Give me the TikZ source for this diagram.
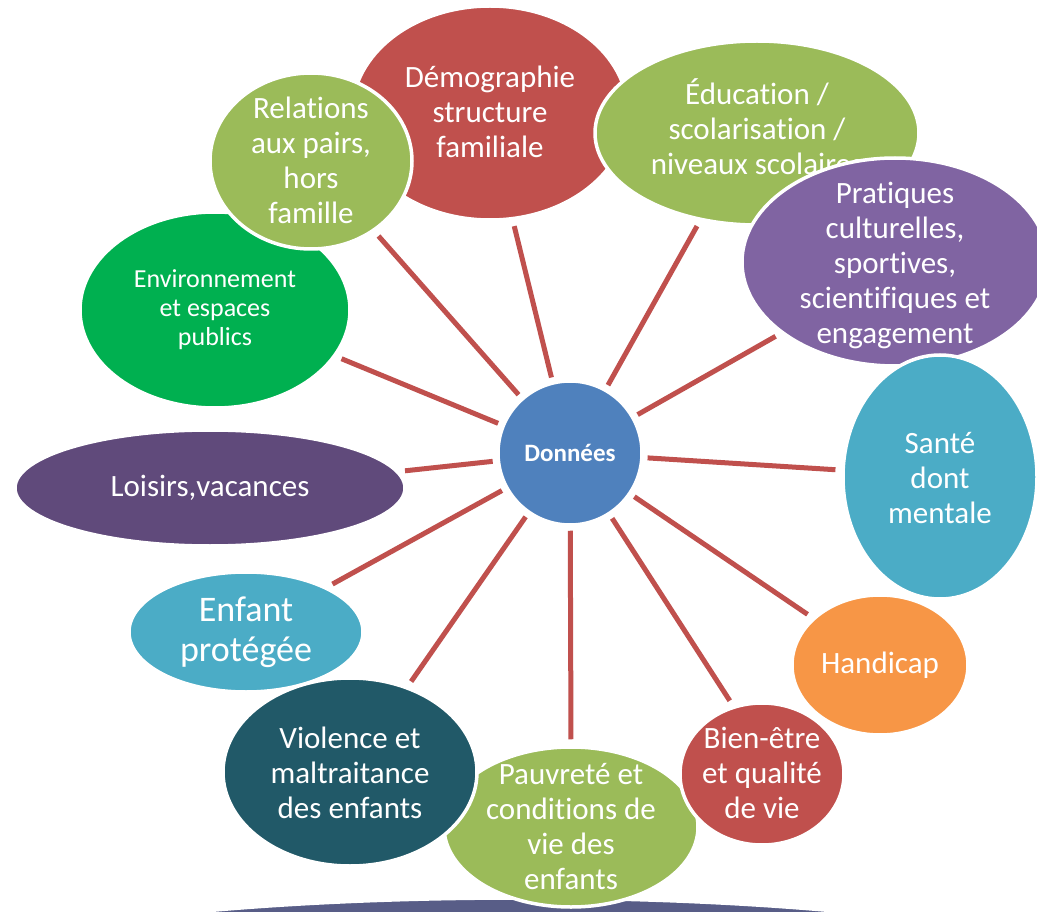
\documentclass[tikz,border=0pt]{standalone}
\usepackage{fontspec}
\setmainfont[Ligatures=NoCommon]{Carlito}
\usetikzlibrary{shapes.geometric}
\pgfdeclarelayer{bg}
\pgfsetlayers{bg,main}
\definecolor{cRed}{HTML}{C0504D}
\definecolor{cGreen}{HTML}{9BBB59}
\definecolor{cPurple}{HTML}{8064A2}
\definecolor{cTeal}{HTML}{4BACC6}
\definecolor{cOrange}{HTML}{F79646}
\definecolor{cDarkTeal}{HTML}{215968}
\definecolor{cBright}{HTML}{00B050}
\definecolor{cDarkPurple}{HTML}{604A7B}
\definecolor{cBlue}{HTML}{4F81BD}
\definecolor{cBand}{HTML}{585D87}
\definecolor{cLine}{HTML}{C0504D}
\begin{document}
\begin{tikzpicture}[x=1pt,y=-1pt,
  bubble/.style={ellipse, draw=white, line width=3.5pt, inner sep=0pt, fill=#1},
  txt/.style={text=white, align=center, inner sep=0pt, font=\fontsize{31}{35}\selectfont},
  link/.style={draw=cLine, line width=5pt, shorten <=4pt, shorten >=6pt}]
\useasboundingbox (0,0) rectangle (1037,912);
\clip (0,0) rectangle (1037,912);
% bottom band
\fill[cBand, draw=white, line width=3.5pt] (520,985) ellipse [x radius=600pt, y radius=87pt];
% bubbles (back to front)
\node[bubble=cBright, minimum width=270, minimum height=196] (env) at (215,310) {};
\node[txt, font=\fontsize{26}{29}\selectfont] (envt) at (215,310) {Environnement\\et espaces\\publics};
\node[bubble=cRed, minimum width=276, minimum height=214] (demo) at (490,113) {};
\node[txt] (demot) at (490,112) {Démographie\\structure\\familiale};
\node[bubble=cGreen, minimum width=202, minimum height=176] (rel) at (311,161) {};
\node[txt] (relt) at (311,160) {Relations\\aux pairs,\\hors\\famille};
\node[bubble=cGreen, minimum width=324, minimum height=184] (edu) at (757,133) {};
\node[txt] (edut) at (757,127) {Éducation /\\scolarisation /\\niveaux scolaires};
\node[bubble=cPurple, minimum width=306, minimum height=208] (prat) at (895,262) {};
\node[txt] (pratt) at (895,265) {Pratiques\\culturelles,\\sportives,\\scientifiques et\\engagement};
\node[bubble=cTeal, minimum width=194, minimum height=244] (sante) at (940,477) {};
\node[txt] (santet) at (940,478) {Santé\\dont\\mentale};
\node[bubble=cOrange, minimum width=176, minimum height=140] (hand) at (880,665) {};
\node[txt] (handt) at (880,665) {Handicap};
\node[bubble=cGreen, minimum width=254, minimum height=160] (pauv) at (571,827) {};
\node[txt] (pauvt) at (571,827) {Pauvreté et\\conditions de\\vie des\\enfants};
\node[bubble=cRed, minimum width=164, minimum height=142] (bien) at (762,774) {};
\node[txt] (bient) at (762,773) {Bien-être\\et qualité\\de vie};
\node[bubble=cTeal, minimum width=234, minimum height=120] (enf) at (246,632) {};
\node[txt, font=\fontsize{36}{40}\selectfont] (enft) at (246,632) {Enfant\\protégée};
\node[bubble=cDarkTeal, minimum width=254, minimum height=188] (viol) at (350,772) {};
\node[txt] (violt) at (350,773) {Violence et\\maltraitance\\des enfants};
\node[bubble=cDarkPurple, minimum width=390, minimum height=116] (lois) at (210,488) {};
\node[txt] (loist) at (210,488) {Loisirs,vacances};
\node[circle, draw=white, line width=3.5pt, fill=cBlue, minimum size=144, inner sep=0pt,
      text=white, font=\bfseries\fontsize{25}{28}\selectfont] (C) at (570,453) {Données};
% connectors (behind the bubbles)
\begin{pgfonlayer}{bg}
\fill[white] (0,0) rectangle (1037,912);
\draw[link] (C) -- (env.-21.8);
\draw[link] (C) -- (rel.-48.4);
\draw[link] (C) -- (demo.-78.3);
\draw[link] (C) -- (edu.-123.3);
\draw[link] (C) -- (prat.-148.2);
\draw[link] (C) -- (sante.176);
\draw[link] (C) -- (hand.145.2);
\draw[link] (C) -- (bien.113.6);
\draw[link] (C) -- (pauv.90);
\draw[link] (C) -- (viol.56);
\draw[link] (C) -- (enf.29.3);
\draw[link] (C) -- (lois.5.6);
\end{pgfonlayer}
\end{tikzpicture}
\end{document}
